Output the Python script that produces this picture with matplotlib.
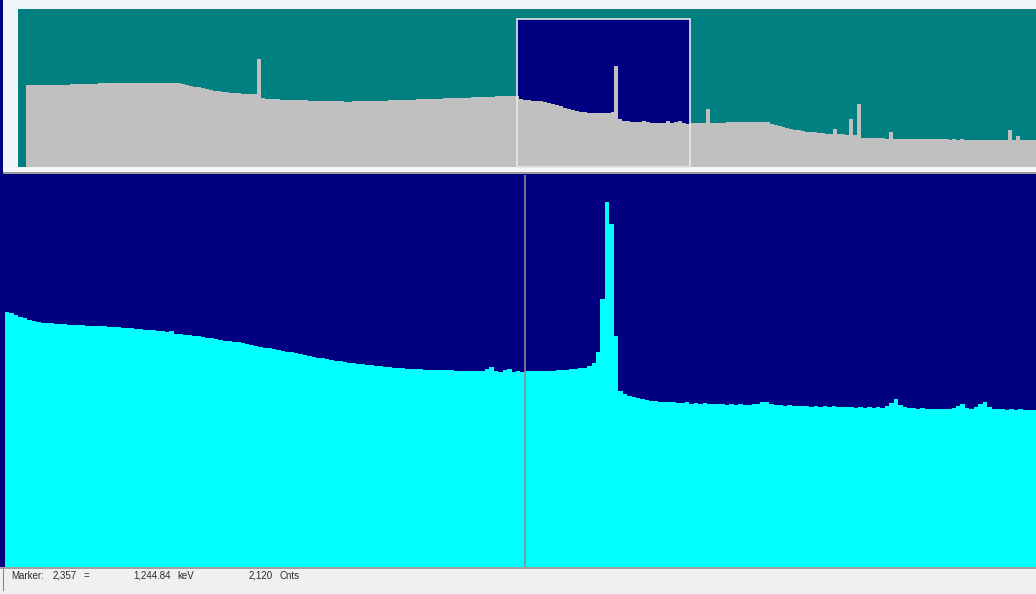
import matplotlib
matplotlib.use("Agg")
import matplotlib.pyplot as plt
from matplotlib.patches import Rectangle

W_PX, H_PX, DPI = 1036, 594, 100

# Full spectrum (4096 channels), counts per 16-channel group
OVERVIEW_GROUP = 16
overview_counts = [
    0, 0, 3225, 3220, 3222, 3218, 3222, 3225,
    3220, 3226, 3230, 3228, 3232, 3236, 3234, 3240,
    3245, 3250, 3255, 3262, 3275, 3285, 3290, 3292,
    3296, 3300, 3305, 3310, 3308, 3300, 3298, 3296,
    3294, 3292, 3290, 3290, 3288, 3290, 3288, 3285,
    3275, 3245, 3210, 3180, 3150, 3115, 3080, 3050,
    3020, 2990, 2965, 2945, 2925, 2908, 2895, 2880,
    2868, 2855, 2845, 2860, 4230, 2700, 2660, 2655,
    2650, 2646, 2640, 2636, 2630, 2625, 2620, 2615,
    2608, 2602, 2596, 2590, 2585, 2580, 2576, 2572,
    2570, 2568, 2566, 2566, 2568, 2570, 2574, 2578,
    2584, 2588, 2594, 2598, 2604, 2608, 2614, 2618,
    2625, 2630, 2636, 2640, 2646, 2652, 2656, 2662,
    2668, 2672, 2678, 2684, 2690, 2694, 2700, 2706,
    2712, 2718, 2724, 2730, 2738, 2744, 2752, 2758,
    2766, 2772, 2780, 2786, 2792, 2765, 2670, 2632,
    2620, 2605, 2588, 2568, 2540, 2500, 2460, 2420,
    2375, 2330, 2280, 2235, 2195, 2165, 2145, 2133,
    2125, 2135, 2125, 2118, 2125, 2160, 3960, 1900,
    1820, 1795, 1778, 1768, 1760, 1785, 1750, 1742,
    1737, 1730, 1740, 1815, 1715, 1760, 1789, 1708,
    1702, 1725, 1722, 1726, 1730, 2270, 1735, 1730,
    1736, 1742, 1748, 1752, 1758, 1762, 1764, 1760,
    1764, 1758, 1755, 1745, 1770, 1700, 1660, 1620,
    1580, 1540, 1500, 1460, 1430, 1405, 1385, 1370,
    1355, 1340, 1325, 1310, 1300, 1480, 1285, 1275,
    1262, 1880, 1250, 2470, 1150, 1135, 1130, 1125,
    1120, 1118, 1112, 1370, 1105, 1100, 1092, 1098,
    1090, 1095, 1086, 1092, 1084, 1090, 1080, 1086,
    1078, 1084, 1076, 1082, 1072, 1078, 1070, 1076,
    1068, 1074, 1064, 1070, 1062, 1068, 1060, 1064,
    1058, 1450, 1060, 1215, 1050, 1046, 1042, 1040,
]

# Expanded region, counts per 3-channel group starting at zoom_start
ZOOM_GROUP = 3
zoom_start = 2006
zoom_counts = [
    2758, 2740, 2720, 2702, 2690, 2670, 2655, 2648,
    2640, 2636, 2632, 2628, 2626, 2622, 2620, 2617,
    2615, 2612, 2610, 2608, 2606, 2604, 2600, 2597,
    2592, 2590, 2585, 2580, 2578, 2573, 2570, 2566,
    2562, 2558, 2552, 2548, 2545, 2550, 2522, 2515,
    2508, 2503, 2498, 2492, 2488, 2480, 2472, 2462,
    2455, 2448, 2440, 2436, 2428, 2418, 2410, 2402,
    2392, 2384, 2372, 2364, 2355, 2346, 2338, 2328,
    2320, 2310, 2300, 2290, 2282, 2272, 2265, 2255,
    2248, 2240, 2230, 2224, 2217, 2210, 2203, 2198,
    2192, 2186, 2180, 2175, 2170, 2166, 2161, 2158,
    2152, 2148, 2146, 2142, 2140, 2138, 2135, 2133,
    2131, 2130, 2128, 2126, 2127, 2124, 2123, 2122,
    2122, 2120, 2121, 2119, 2140, 2160, 2125, 2110,
    2128, 2140, 2110, 2118, 2112, 2120, 2116, 2118,
    2120, 2122, 2124, 2123, 2127, 2130, 2134, 2138,
    2142, 2148, 2158, 2175, 2210, 2330, 2900, 3941,
    3700, 2500, 1900, 1870, 1855, 1843, 1830, 1815,
    1805, 1800, 1795, 1790, 1788, 1785, 1782, 1780,
    1776, 1782, 1770, 1774, 1766, 1772, 1762, 1768,
    1760, 1766, 1756, 1762, 1754, 1760, 1752, 1758,
    1760, 1770, 1782, 1790, 1766, 1752, 1756, 1748,
    1752, 1744, 1748, 1740, 1746, 1738, 1744, 1736,
    1742, 1734, 1740, 1732, 1738, 1730, 1736, 1726,
    1732, 1724, 1730, 1722, 1728, 1726, 1740, 1775,
    1815, 1750, 1728, 1720, 1726, 1714, 1720, 1710,
    1716, 1708, 1714, 1706, 1712, 1720, 1745, 1765,
    1722, 1712, 1730, 1770, 1789, 1730, 1710, 1706,
    1712, 1702, 1708, 1700, 1706, 1698, 1704, 1700,
]

marker_channel = 2357
marker_energy_kev = 1244.84
marker_counts = 2120

NAVY = "#000080"
TEAL = "#008080"
SILVER = "#c0c0c0"
CYAN = "#00ffff"

fig = plt.figure(figsize=(W_PX / DPI, H_PX / DPI), dpi=DPI, facecolor=NAVY)


def px_axes(x0, y0, x1, y1):
    return fig.add_axes([x0 / W_PX, 1 - y1 / H_PX, (x1 - x0) / W_PX, (y1 - y0) / H_PX])


def px_box(x0, y0, x1, y1, color, z=-1):
    fig.add_artist(Rectangle((x0 / W_PX, 1 - y1 / H_PX), (x1 - x0) / W_PX,
                             (y1 - y0) / H_PX, transform=fig.transFigure,
                             facecolor=color, edgecolor="none", zorder=z))


def bare(ax, face):
    ax.set_facecolor(face)
    ax.set_xticks([])
    ax.set_yticks([])
    for s in ax.spines.values():
        s.set_visible(False)


# window frame around the overview strip
px_box(3, 0, W_PX, 172, "#f3f6f9")
px_box(3, 172, W_PX, 174, "#9a9a9a")

# ---- overview of the whole spectrum ----
n_over = len(overview_counts) * OVERVIEW_GROUP
over_edges = [i * OVERVIEW_GROUP for i in range(len(overview_counts) + 1)]
ax_o = px_axes(18, 9, W_PX, 167)
bare(ax_o, TEAL)
ax_o.set_xlim(0, n_over)
ax_o.set_ylim(0, 6190)

zoom_width = len(zoom_counts) * ZOOM_GROUP
sel_top = 5800
ax_o.add_patch(Rectangle((zoom_start, 0), zoom_width, sel_top,
                         facecolor=NAVY, edgecolor="none", zorder=1))
ax_o.stairs(overview_counts, over_edges, fill=True, color=SILVER, zorder=2)
ax_o.add_patch(Rectangle((zoom_start, 0), zoom_width, sel_top, fill=False,
                         edgecolor="#e8e8e8", lw=1.2, zorder=3, clip_on=False))

# ---- expanded region ----
zoom_edges = [zoom_start + i * ZOOM_GROUP for i in range(len(zoom_counts) + 1)]
ax_m = px_axes(5, 175, W_PX, 568)
bare(ax_m, NAVY)
ax_m.set_xlim(zoom_start, zoom_start + zoom_width)
ax_m.set_ylim(0, 4230)
ax_m.stairs(zoom_counts, zoom_edges, fill=True, color=CYAN, zorder=2)
ax_m.axvline(marker_channel, color="#8c8c8c", lw=1.2, zorder=3)

# ---- status bar ----
px_box(0, 568, W_PX, H_PX, "#f0f0f0", z=2)
px_box(0, 567, W_PX, 568.6, "#a0a0a0", z=3)
px_box(3, 569, 4, 591, "#808080", z=3)

ty = 1 - 576 / H_PX
font = dict(fontsize=7.0, va="center", ha="left", color="#2a2a2a",
            family=["Liberation Sans", "DejaVu Sans"], zorder=4)
fig.text(11 / W_PX, ty, "Marker:", **font)
fig.text(53 / W_PX, ty, f"{marker_channel:,}", **font)
fig.text(84 / W_PX, ty, "=", **font)
fig.text(133 / W_PX, ty, f"{marker_energy_kev:,.2f}", **font)
fig.text(177 / W_PX, ty, "keV", **font)
fig.text(249 / W_PX, ty, f"{marker_counts:,}", **font)
fig.text(280 / W_PX, ty, "Cnts", **font)

fig.savefig("out.png", dpi=DPI, facecolor=NAVY)
